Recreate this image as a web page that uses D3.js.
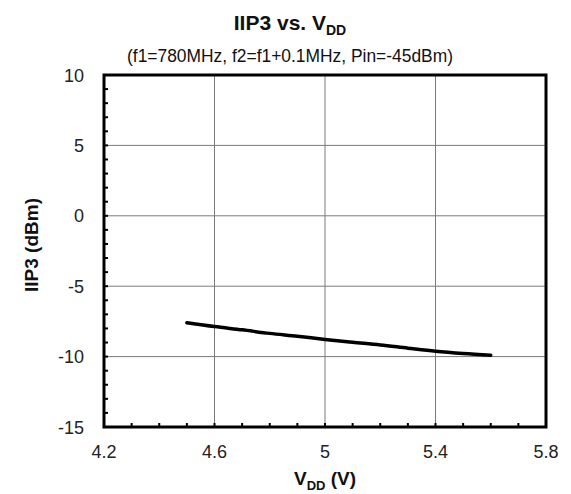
<!DOCTYPE html>
<html><head><meta charset="utf-8">
<script src="https://cdn.jsdelivr.net/npm/d3@7"></script>
<style>body{margin:0;background:#fff}svg{display:block;font-family:"Liberation Sans",Arial,sans-serif}</style>
</head><body><svg id="c" width="571" height="494"></svg>
<script>
const vdd = [4.5, 4.6, 4.7, 4.8, 4.9, 5.0, 5.1, 5.2, 5.3, 5.4, 5.5, 5.6];
const iip3 = [-7.6, -7.87, -8.1, -8.35, -8.55, -8.78, -8.98, -9.17, -9.4, -9.62, -9.78, -9.9];
const xTicks = [4.2, 4.6, 5.0, 5.4, 5.8];
const yTicks = [-15, -10, -5, 0, 5, 10];
const xMinor = d3.range(42, 59).map(v => v / 10);
const yMinor = d3.range(-15, 11);

const svg = d3.select("#c");
const L = 104, R = 546, T = 75, B = 427;
const x = d3.scaleLinear().domain([4.2, 5.8]).range([L, R]);
const y = d3.scaleLinear().domain([-15, 10]).range([B, T]);

svg.append("g").selectAll("line").data(xTicks.slice(1, -1)).join("line")
  .attr("x1", d => x(d)).attr("x2", d => x(d)).attr("y1", T).attr("y2", B)
  .attr("stroke", "#7a7a7a").attr("stroke-width", 1);
svg.append("g").selectAll("line").data(yTicks.slice(1, -1)).join("line")
  .attr("y1", d => y(d)).attr("y2", d => y(d)).attr("x1", L).attr("x2", R)
  .attr("stroke", "#7a7a7a").attr("stroke-width", 1);

svg.append("g").selectAll("line").data(xMinor).join("line")
  .attr("x1", d => x(d)).attr("x2", d => x(d)).attr("y1", B).attr("y2", B - 4)
  .attr("stroke", "#000").attr("stroke-width", 2);
svg.append("g").selectAll("line").data(yMinor).join("line")
  .attr("y1", d => y(d)).attr("y2", d => y(d)).attr("x1", L).attr("x2", L + 4)
  .attr("stroke", "#000").attr("stroke-width", 2);

svg.append("rect").attr("x", L).attr("y", T).attr("width", R - L).attr("height", B - T)
  .attr("fill", "none").attr("stroke", "#000").attr("stroke-width", 3);

svg.append("g").selectAll("text").data(xTicks).join("text")
  .attr("x", d => x(d)).attr("y", B + 31).attr("text-anchor", "middle")
  .attr("font-size", 18).attr("fill", "#222").text(d => d3.format("")(d));
svg.append("g").selectAll("text").data(yTicks).join("text")
  .attr("x", L - 20).attr("y", d => y(d) + 6.5).attr("text-anchor", "end")
  .attr("font-size", 18).attr("fill", "#222").text(d => d);

const line = d3.line().x((d, i) => x(vdd[i])).y(d => y(d)).curve(d3.curveMonotoneX);
svg.append("path").datum(iip3).attr("d", line).attr("fill", "none")
  .attr("stroke", "#000").attr("stroke-width", 3.5).attr("stroke-linecap", "round");

const t = svg.append("text").attr("x", 290).attr("y", 30).attr("text-anchor", "middle")
  .attr("font-size", 21).attr("font-weight", "bold").attr("fill", "#111");
t.append("tspan").text("IIP3 vs. V");
t.append("tspan").attr("font-size", 14).attr("dy", 5).text("DD");

svg.append("text").attr("x", 290).attr("y", 62).attr("text-anchor", "middle")
  .attr("font-size", 18).attr("fill", "#111").attr("textLength", 326).attr("lengthAdjust", "spacingAndGlyphs")
  .text("(f1=780MHz, f2=f1+0.1MHz, Pin=-45dBm)");

const xt = svg.append("text").attr("x", x(5)).attr("y", 485).attr("text-anchor", "middle")
  .attr("font-size", 19).attr("font-weight", "bold").attr("fill", "#111");
xt.append("tspan").text("V");
xt.append("tspan").attr("font-size", 13).attr("dy", 5).text("DD");
xt.append("tspan").attr("dy", -5).text(" (V)");

svg.append("text").attr("transform", `translate(38,${(T + B) / 2 - 6}) rotate(-90)`)
  .attr("text-anchor", "middle").attr("font-size", 19).attr("font-weight", "bold").attr("fill", "#111")
  .text("IIP3 (dBm)");
</script></body></html>
